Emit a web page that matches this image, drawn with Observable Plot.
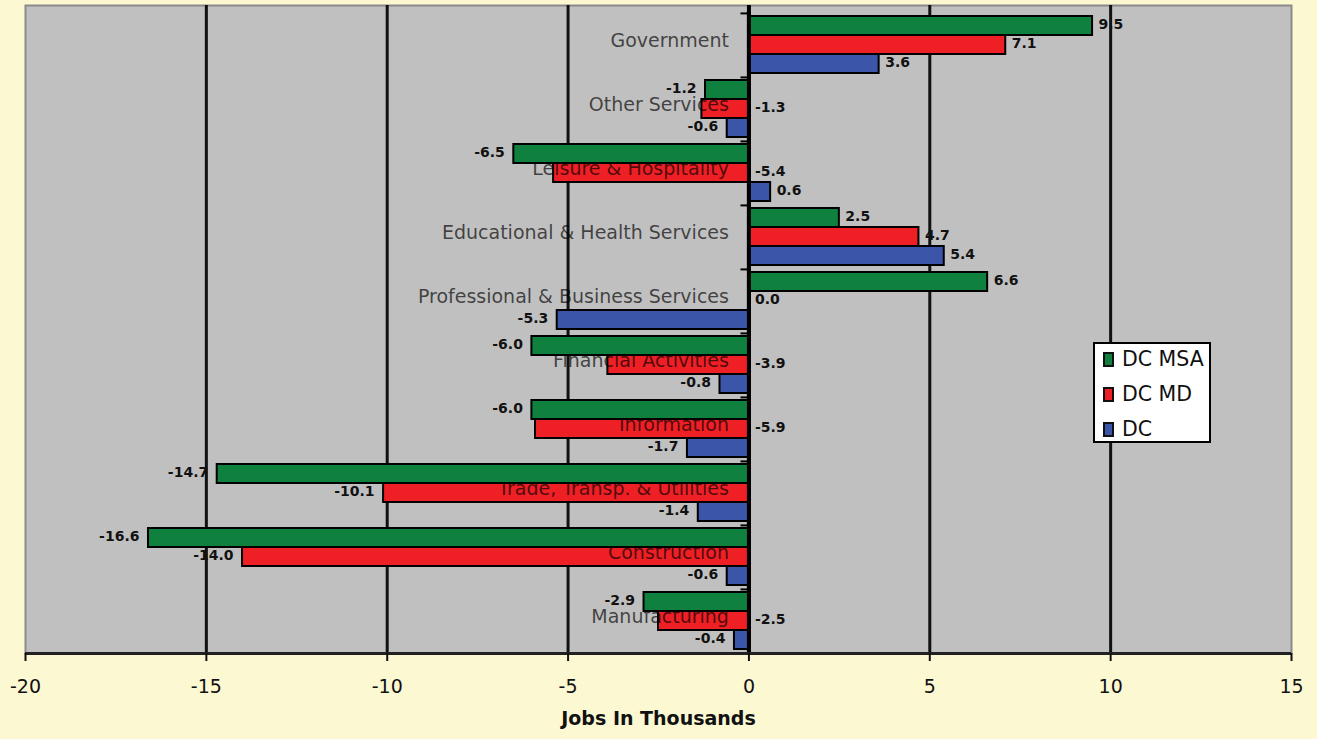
<!DOCTYPE html>
<html><head><meta charset="utf-8">
<script src="https://cdn.jsdelivr.net/npm/d3@7"></script>
<script src="https://cdn.jsdelivr.net/npm/@observablehq/plot@0.6"></script>
<style>
html,body{margin:0;padding:0;background:#fcf8d2;}
#chart{position:relative;width:1317px;height:739px;overflow:hidden;background:#fcf8d2;font-family:"DejaVu Sans",sans-serif;}
#chart svg{position:absolute;left:0;top:0;}
#legend{position:absolute;left:1093px;top:342px;width:114px;height:97px;background:#fff;border:2px solid #000;}
#legend .item{position:absolute;left:8px;height:24px;display:flex;align-items:center;white-space:nowrap;font-size:20.5px;color:#111;}
#legend .sw{width:7px;height:11px;border:2px solid #111;margin-right:8px;}
</style></head><body>
<div id="chart"></div>
<script>
const categories = ["Government","Other Services","Leisure & Hospitality","Educational & Health Services","Professional & Business Services","Financial Activities","Information","Trade, Transp. & Utilities","Construction","Manufacturing"];
const seriesNames = ["DC MSA","DC MD","DC"];
const dcMsa = [9.5,-1.2,-6.5,2.5,6.6,-6.0,-6.0,-14.7,-16.6,-2.9];
const dcMd  = [7.1,-1.3,-5.4,4.7,0.0,-3.9,-5.9,-10.1,-14.0,-2.5];
const dc    = [3.6,-0.6,0.6,5.4,-5.3,-0.8,-1.7,-1.4,-0.6,-0.4];
const seriesColors = ["#10803f","#ee1f25","#3b55a8"];
const xTicks = [-20,-15,-10,-5,0,5,10,15];
const gridValues = [-15,-10,-5,5,10];
const axisTitle = "Jobs In Thousands";

const seriesValues = [dcMsa, dcMd, dc];
const rows = [];
categories.forEach((c,i)=>{
  seriesNames.forEach((s,j)=>rows.push({category:c, series:s, value:seriesValues[j][i]}));
});
// red (DC MD) labels of small negatives sit beside the axis, as in the original
const atAxis = d => d.series === "DC MD" && d.value < 0 && d.value > -10;
const rightSide = rows.filter(d => d.value >= 0 || atAxis(d));
const leftSide = rows.filter(d => !(d.value >= 0 || atAxis(d)));
const firstSeries = rows.filter(d => d.series === seriesNames[0]);
const otherSeries = rows.filter(d => d.series !== seriesNames[0]);

const W = 1317, H = 739;
const xDomain = [-20, 15];
const font = "DejaVu Sans, sans-serif";

const back = Plot.plot({
  width: W, height: H,
  marginLeft: 25, marginRight: 26, marginTop: 5, marginBottom: 86,
  style: {background: "transparent", fontFamily: font, color: "#111"},
  x: {domain: xDomain},
  y: {domain: [0, 1], axis: null},
  marks: [
    Plot.frame({fill: "#c0c0c0", stroke: "#8a8a8a", strokeWidth: 2}),
    Plot.ruleX(gridValues, {stroke: "#111", strokeWidth: 3}),
    Plot.ruleX([0], {stroke: "#000", strokeWidth: 4}),
    Plot.ruleY([0], {stroke: "#222", strokeWidth: 3}),
    Plot.axisX(xTicks, {tickSize: 8, tickPadding: 18, tickFormat: d => String(d), fontSize: 19, stroke: "#111", strokeWidth: 2, label: null}),
    Plot.text([axisTitle], {text: d => d, frameAnchor: "bottom", dy: 71, fontSize: 19, fontWeight: "bold", fill: "#111"})
  ]
});

const front = Plot.plot({
  width: W, height: H,
  marginLeft: 25, marginRight: 26, marginTop: 13, marginBottom: 88,
  style: {background: "transparent", fontFamily: font, color: "#111"},
  x: {domain: xDomain, axis: null},
  fy: {domain: categories, paddingInner: 0.09, paddingOuter: 0, axis: null, label: null},
  y: {domain: seriesNames, padding: 0, axis: null, label: null},
  color: {domain: seriesNames, range: seriesColors},
  marks: [
    Plot.barX(otherSeries, {fy: "category", y: "series", x: "value", fill: "series", stroke: "#000", strokeWidth: 2}),
    Plot.text(categories, {fy: d => d, x: () => 0, text: d => d, textAnchor: "end", dx: -20, dy: -3.5, frameAnchor: "middle", fontSize: 19, fill: "#000", fillOpacity: 0.68}),
    Plot.barX(firstSeries, {fy: "category", y: "series", x: "value", fill: "series", stroke: "#000", strokeWidth: 2}),
    Plot.ruleX([0], {stroke: "#000", strokeWidth: 4, insetTop: -3, insetBottom: -3}),
    Plot.ruleY(categories, {fy: d => d, y: () => "DC MSA", x1: () => -0.22, x2: () => 0, dy: -12.6, stroke: "#000", strokeWidth: 2}),
    Plot.text(rightSide, {fy: "category", y: "series", x: d => d.value >= 0 ? d.value : 0, text: d => d.value.toFixed(1), textAnchor: "start", dx: 6, dy: -1, fontSize: 14, fontWeight: "bold", fill: "#111"}),
    Plot.text(leftSide, {fy: "category", y: "series", x: "value", text: d => d.value.toFixed(1), textAnchor: "end", dx: -9, dy: -1, fontSize: 14, fontWeight: "bold", fill: "#111"})
  ]
});

const chart = document.getElementById("chart");
chart.appendChild(back);
chart.appendChild(front);

const legend = document.createElement("div");
legend.id = "legend";
seriesNames.forEach((s,i)=>{
  const item = document.createElement("div");
  item.className = "item";
  item.style.top = (3 + i*35) + "px";
  const sw = document.createElement("div");
  sw.className = "sw";
  sw.style.background = seriesColors[i];
  const t = document.createElement("span");
  t.textContent = s;
  item.appendChild(sw); item.appendChild(t);
  legend.appendChild(item);
});
chart.appendChild(legend);
</script>
</body></html>
